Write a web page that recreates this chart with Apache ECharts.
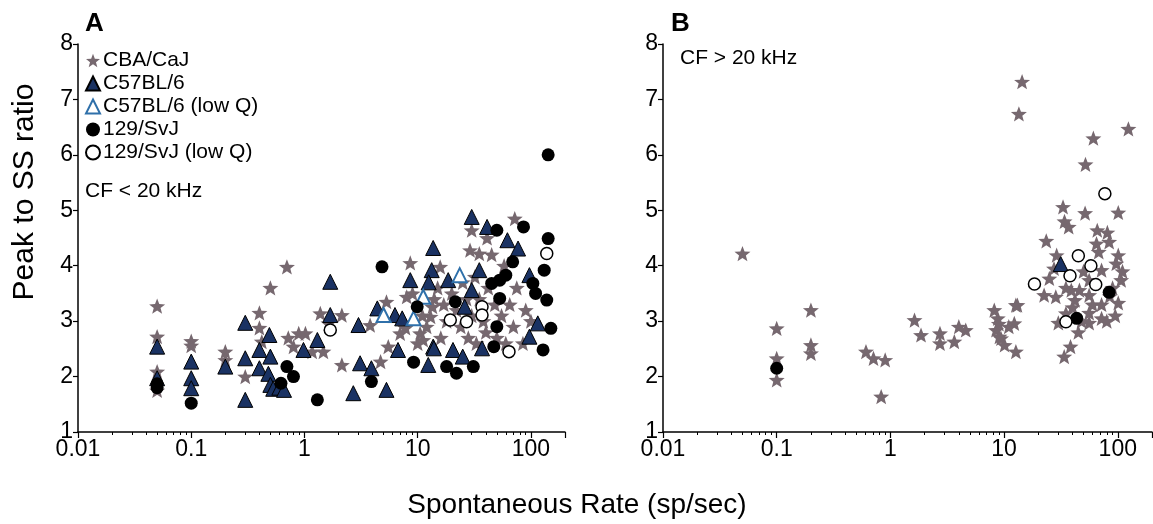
<!DOCTYPE html>
<html lang="en">
<head>
    <meta charset="UTF-8">
    <title>Peak to SS ratio</title>
    <script type="text/javascript" src="https://cdn.jsdelivr.net/npm/echarts@6/dist/echarts.min.js"></script>
    <style>
        html, body { margin: 0; padding: 0; background: #fff; }
    </style>
</head>
<body>
<div id="main" style="width:1153px;height:524px;"></div>
<script>
    // panel A: CF < 20 kHz   [spont rate, peak/SS]
    const aStar = [[0.05,3.27],[0.05,2.72],[0.05,2.09],[0.05,1.75],[0.1,2.64],[0.1,2.56],[0.2,2.45],[0.2,2.3],
        [0.3,2.0],[0.4,3.15],[0.4,2.88],[0.42,2.63],[0.5,3.6],[0.7,3.98],[0.72,2.7],[0.8,2.54],[0.89,2.78],
        [1.02,2.78],[1.17,2.45],[1.38,3.14],[1.47,2.45],[1.63,2.96],[2.14,3.11],[2.14,2.21],[3.8,2.93],[4.7,2.27],
        [5.5,2.54],[5.3,3.35],[7.0,2.78],[7.8,2.88],[8.0,3.44],[8.6,4.05],[10.5,2.78],[11.2,2.66],[13,3.08],
        [13.5,3.26],[15.8,3.98],[29,4.28],[35,4.22],[41,4.5],[30,4.64],[72,4.85],[15,3.6],[17,3.3],[18,3.0],
        [20,3.5],[22,3.2],[24,2.9],[25,3.7],[27,3.4],[28,2.7],[30,3.1],[32,3.8],[33,2.6],[35,3.4],[38,3.0],
        [40,2.8],[42,3.6],[45,4.2],[48,3.3],[50,2.7],[55,3.1],[58,4.0],[60,2.6],[65,3.3],[70,2.9],[75,3.6],
        [85,2.6],[90,3.2],[100,3.0],[12,2.9],[14,3.4],[16,2.7],[11,3.1],[9,3.5],[10,2.6]];
    const aTri = [[0.05,2.54],[0.05,1.97],[0.1,2.27],[0.1,1.97],[0.1,1.79],[0.2,2.18],[0.3,2.97],[0.3,2.33],
        [0.3,1.58],[0.4,2.48],[0.4,2.15],[0.49,2.75],[0.5,2.36],[0.48,2.05],[0.5,1.85],[0.53,1.78],[0.6,1.8],
        [0.66,1.76],[0.98,2.48],[1.3,2.66],[1.69,3.71],[1.69,3.11],[2.7,1.70],[3.0,2.93],[3.1,2.24],[3.9,2.15],
        [4.4,3.23],[5.3,1.76],[6.3,3.11],[7.3,3.05],[6.7,2.48],[8.6,3.74],[12.4,2.21],[13.7,2.54],[13.3,3.92],
        [13.7,4.32],[12.5,3.7],[13.9,2.51],[18.6,3.74],[20.5,2.48],[25,2.36],[26,3.26],[30,4.88],[30,3.56],
        [35,3.92],[37,2.51],[41,4.70],[62,4.46],[77,4.31],[97,3.83],[97,2.72],[115,2.96]];
    const aTriLow = [[5.0,3.11],[9.2,3.05],[11.2,3.44],[23.5,3.83]];
    const aCirc = [[0.05,1.87],[0.05,1.8],[0.1,1.52],[0.7,2.18],[0.62,1.88],[0.8,2.0],[1.3,1.58],[3.9,1.91],
        [4.84,3.98],[9.2,2.26],[9.9,3.26],[18,2.18],[21.5,3.35],[22,2.06],[31,2.18],[45,3.68],[47,2.54],
        [50,4.64],[50,2.9],[53,3.74],[53,3.41],[60,3.83],[69,4.07],[86,4.70],[104,3.68],[110,3.5],[128,2.48],
        [131,3.92],[138,3.38],[142,4.49],[142,6.0],[150,2.87]];
    const aCircLow = [[1.69,2.84],[19.4,3.02],[27,2.99],[37,3.26],[37,3.11],[64,2.45],[138,4.22]];

    // panel B: CF > 20 kHz
    const bStar = [[0.05,4.22],[0.1,2.87],[0.1,2.33],[0.1,1.94],[0.2,3.2],[0.2,2.57],[0.2,2.42],[0.61,2.45],
        [0.71,2.33],[0.9,2.3],[0.83,1.64],[1.63,3.02],[1.86,2.75],[2.73,2.78],[2.73,2.6],[3.65,2.63],[4.0,2.9],
        [4.6,2.84],[8.8,3.05],[8.5,2.84],[9.4,2.69],[10.1,2.57],[12.7,3.29],[12.3,2.96],[12.7,2.45],[33.8,2.36],
        [38.4,2.54],[14.4,7.32],[13.5,6.74],[124,6.47],[61,6.3],[52,5.83],[33,5.06],[51.6,4.95],[101,4.96],
        [34,4.8],[37,4.7],[66,4.64],[81,4.6],[84,4.43],[23.5,4.45],[29,4.19],[97,4.04],[107,3.74],[101,3.33],
        [72,3.3],[56,3.47],[39,3.56],[42,3.38],[28.5,3.44],[22.5,3.47],[25,3.77],[56,3.74],[72,3.92],[68,4.25],
        [101,4.19],[72,3.05],[56,2.97],[56,3.15],[30,2.97],[27.5,3.95],[35,3.14],[46,3.56],[8.2,3.2],[9,2.95],
        [13.1,3.29],[11,2.9],[9.1,2.72],[45,2.8],[60,3.3],[90,3.6],[110,3.9],[80,3.0],[35,3.6],[50,3.9],
        [65,4.4],[40,3.25],[85,3.45],[48,3.0],[95,3.1]];
    const bTri = [[31.5,4.03]];
    const bCirc = [[0.1,2.15],[84,3.52],[43.5,3.05]];
    const bCircLow = [[18.5,3.67],[45,4.18],[58,4.0],[38,3.82],[64,3.66],[77,5.3],[35,2.99]];

    const names = ['CBA/CaJ', 'C57BL/6', 'C57BL/6 (low Q)', '129/SvJ', '129/SvJ (low Q)'];

    const FONT = 'Liberation Sans, Arial, sans-serif';
    const STAR = 'path://M0,-10L2.5,-3.4L9.51,-3.09L4.05,1.32L5.88,8.09L0,4.25L-5.88,8.09L-4.05,1.32L-9.51,-3.09L-2.5,-3.4Z';

    const styles = [
        { symbol: STAR, symbolSize: 16, itemStyle: { color: '#76686f', opacity: 1 } },
        { symbol: 'triangle', symbolSize: 15, itemStyle: { color: '#1a3263', borderColor: '#000', borderWidth: 1, opacity: 1 } },
        { symbol: 'triangle', symbolSize: 14, itemStyle: { color: '#fff', borderColor: '#2f70aa', borderWidth: 2, opacity: 1 } },
        { symbol: 'circle', symbolSize: 13, itemStyle: { color: '#000', opacity: 1 } },
        { symbol: 'circle', symbolSize: 12, itemStyle: { color: '#fff', borderColor: '#000', borderWidth: 1.5, opacity: 1 } }
    ];

    function mk(i, data, idx) {
        return Object.assign({
            name: names[i],
            type: 'scatter',
            xAxisIndex: idx,
            yAxisIndex: idx,
            data: data,
            symbolKeepAspect: true,
            emphasis: { disabled: true },
            z: 2 + (i === 0 ? 0 : 1)
        }, JSON.parse(JSON.stringify(styles[i])));
    }

    function xAx(idx) {
        return {
            type: 'log', logBase: 10, gridIndex: idx, min: 0.01, max: 200,
            axisLine: { lineStyle: { color: '#000', width: 1.5 } },
            axisTick: { length: 6, lineStyle: { color: '#000', width: 1.2 } },
            minorTick: { show: true, splitNumber: 9, length: 3, lineStyle: { color: '#000', width: 1 } },
            splitLine: { show: false },
            axisLabel: {
                color: '#000', fontSize: 23, fontFamily: FONT, margin: 6, showMaxLabel: false,
                formatter: v => String(Number(v.toPrecision(3)))
            }
        };
    }
    function yAx(idx) {
        return {
            type: 'value', gridIndex: idx, min: 1, max: 8, interval: 1,
            axisLine: { show: true, lineStyle: { color: '#000', width: 1.5 } },
            axisTick: { show: true, length: 5, lineStyle: { color: '#000', width: 1.2 } },
            splitLine: { show: false },
            axisLabel: { color: '#000', fontSize: 23, fontFamily: FONT, margin: 5 }
        };
    }

    let myChart = echarts.init(document.getElementById('main'));

    let option = {
        animation: false,
        backgroundColor: '#fff',
        grid: [
            { left: 78, top: 44, width: 487, height: 388 },
            { left: 663, top: 44, width: 489, height: 388 }
        ],
        xAxis: [xAx(0), xAx(1)],
        yAxis: [yAx(0), yAx(1)],
        legend: {
            orient: 'vertical', left: 80, top: 45,
            itemWidth: 14, itemHeight: 14, itemGap: 2,
            textStyle: { fontSize: 21, color: '#000', fontFamily: FONT, padding: [0, 0, 0, -2] },
            data: names
        },
        graphic: [
            { type: 'text', left: 85, top: 11, style: { text: 'A', fontSize: 26, fontWeight: 'bold', fill: '#000', fontFamily: FONT } },
            { type: 'text', left: 671, top: 11, style: { text: 'B', fontSize: 26, fontWeight: 'bold', fill: '#000', fontFamily: FONT } },
            { type: 'text', left: 85, top: 181, style: { text: 'CF < 20 kHz', fontSize: 21, fill: '#000', fontFamily: FONT } },
            { type: 'text', left: 680, top: 48, style: { text: 'CF > 20 kHz', fontSize: 21, fill: '#000', fontFamily: FONT } },
            { type: 'text', x: 25, y: 192, rotation: Math.PI / 2,
              style: { text: 'Peak to SS ratio', fontSize: 30, fill: '#000', fontFamily: FONT, align: 'center', verticalAlign: 'middle' } },
            { type: 'text', x: 577, y: 505,
              style: { text: 'Spontaneous Rate (sp/sec)', fontSize: 28, fill: '#000', fontFamily: FONT, align: 'center', verticalAlign: 'middle' } }
        ],
        series: [
            mk(0, aStar, 0), mk(1, aTri, 0), mk(2, aTriLow, 0), mk(3, aCirc, 0), mk(4, aCircLow, 0),
            mk(0, bStar, 1), mk(1, bTri, 1), mk(3, bCirc, 1), mk(4, bCircLow, 1)
        ]
    };
    myChart.setOption(option);
</script>
</body>
</html>
